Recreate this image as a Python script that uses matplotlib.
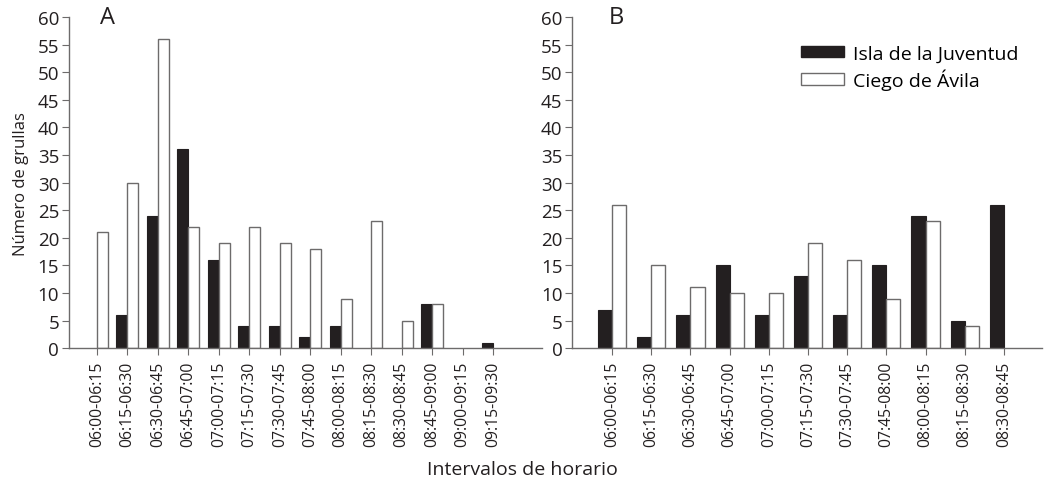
import numpy as np
import matplotlib
matplotlib.use("Agg")
import matplotlib.pyplot as plt
from matplotlib.patches import Patch

plt.rcParams['font.family'] = ['Open Sans', 'DejaVu Sans']

# Panel A intervals and counts
intervals_a = ["06:00-06:15", "06:15-06:30", "06:30-06:45", "06:45-07:00",
               "07:00-07:15", "07:15-07:30", "07:30-07:45", "07:45-08:00",
               "08:00-08:15", "08:15-08:30", "08:30-08:45", "08:45-09:00",
               "09:00-09:15", "09:15-09:30"]
isla_a = [0, 6, 24, 36, 16, 4, 4, 2, 4, 0, 0, 8, 0, 1]
ciego_a = [21, 30, 56, 22, 19, 22, 19, 18, 9, 23, 5, 8, 0, 0]

# Panel B intervals and counts
intervals_b = intervals_a[:11]
isla_b = [7, 2, 6, 15, 6, 13, 6, 15, 24, 5, 26]
ciego_b = [26, 15, 11, 10, 10, 19, 16, 9, 23, 4, 0]

black = "#231f20"
edge_grey = "#6d6b6b"
w = 0.36

fig = plt.figure(figsize=(10.44, 4.85), dpi=100)
ax_a = fig.add_axes([0.066, 0.280, 0.453, 0.683])
ax_b = fig.add_axes([0.548, 0.280, 0.450, 0.683])


def draw_panel(ax, labels, isla, ciego, letter, xlim):
    x = np.arange(len(labels))
    # zero counts get no outline so nothing shows on the axis
    lw_i = [0 if v == 0 else 0.8 for v in isla]
    lw_c = [0 if v == 0 else 1.0 for v in ciego]
    ax.bar(x - w / 2, isla, width=w, color=black, edgecolor=black, linewidth=lw_i)
    ax.bar(x + w / 2, ciego, width=w, color="white", edgecolor=edge_grey, linewidth=lw_c)
    ax.set_xlim(*xlim)
    ax.set_ylim(0, 60)
    ax.set_yticks(range(0, 61, 5))
    ax.set_xticks(x)
    ax.set_xticklabels(labels, rotation=90, fontsize=11.3, color=black)
    ax.tick_params(axis='y', labelsize=13.5, labelcolor=black, length=5,
                   color=edge_grey, pad=2)
    ax.tick_params(axis='x', length=5, color=edge_grey, pad=4)
    for s in ["top", "right"]:
        ax.spines[s].set_visible(False)
    for s in ["left", "bottom"]:
        ax.spines[s].set_color(edge_grey)
        ax.spines[s].set_linewidth(1.0)
    ax.text(0.065 if letter == "A" else 0.078, 1.0, letter, transform=ax.transAxes,
            fontsize=17, color=black, va="center", ha="left")


draw_panel(ax_a, intervals_a, isla_a, ciego_a, "A", (-0.92, 14.6))
draw_panel(ax_b, intervals_b, isla_b, ciego_b, "B", (-1.02, 10.97))

ax_a.set_ylabel("Número de grullas", fontsize=12, color=black, labelpad=6)
fig.text(0.5, 0.031, "Intervalos de horario", ha="center", va="center",
         fontsize=14, color=black)

handles = [Patch(facecolor=black, edgecolor=black, label="Isla de la Juventud"),
           Patch(facecolor="white", edgecolor=edge_grey, label="Ciego de Ávila")]
ax_b.legend(handles=handles, loc="upper left", bbox_to_anchor=(0.45, 0.97),
            frameon=False, fontsize=14, handlelength=2.2, handleheight=0.55,
            labelspacing=0.3, handletextpad=0.45)

fig.savefig("out.png", dpi=100)
